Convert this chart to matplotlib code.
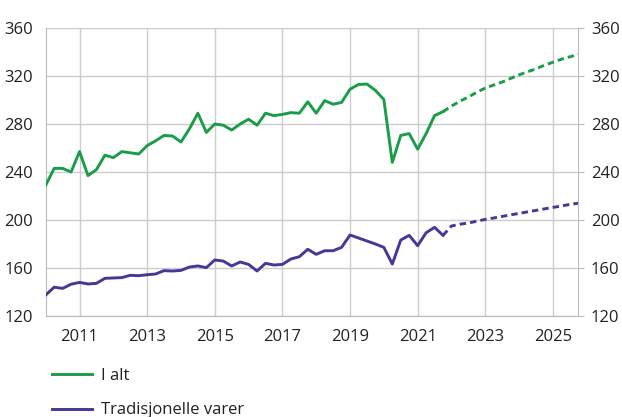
import matplotlib
matplotlib.use("Agg")
import matplotlib.pyplot as plt
from matplotlib.lines import Line2D
import numpy as np

plt.rcParams['font.family'] = ['Open Sans', 'DejaVu Sans']

# quarterly history, 2010Q1 - 2021Q4
hist_start = 2010
i_alt = [229, 243, 243, 240, 257, 237, 242, 254,
         252, 257, 256, 255, 262, 266, 270.5, 270,
         265, 276, 289, 273, 280, 279, 275, 280,
         284, 279, 289, 287, 288, 289.5, 289, 298.5,
         289, 299.5, 296.5, 298, 309, 313, 313.3, 308,
         300.5, 248, 270.5, 272, 259, 272, 287, 290.3]
tradisjonelle = [137.5, 144, 143, 146.5, 148, 146.7, 147.2, 151.4,
                 151.7, 152, 153.9, 153.6, 154.4, 155, 157.8, 157.5,
                 158, 160.8, 161.7, 160.3, 166.7, 165.8, 161.7, 165,
                 163, 157.5, 163.9, 162.5, 163, 167.5, 169.4, 175.6,
                 171.4, 174.4, 174.4, 177.2, 187.5, 185, 182.5, 180,
                 177.2, 163.3, 183.3, 187.2, 178.6, 189.4, 193.9, 187.2]

# projections, 2021Q4 - 2025Q4
proj_start = 2021.75
i_alt_proj = [290.3, 295, 299, 302.5, 306.5, 310, 312.5, 315, 318,
              321, 323.5, 326, 329, 331.5, 334, 336, 338]
trad_proj = [187.2, 195, 196.5, 197.5, 199, 200.5, 201.7, 203, 204.3,
             205.5, 206.8, 208, 209.3, 210.5, 211.7, 213, 214]

labels = ["I alt", "Tradisjonelle varer"]
colors = ["#1a9d49", "#473796"]
year_ticks = [2011, 2013, 2015, 2017, 2019, 2021, 2023, 2025]
y_ticks = [120, 160, 200, 240, 280, 320, 360]

t_hist = hist_start + np.arange(len(i_alt)) / 4
t_proj = proj_start + np.arange(len(i_alt_proj)) / 4

fig = plt.figure(figsize=(6.22, 4.17), dpi=100)
ax = fig.add_axes([0.0735, 0.2422, 0.8562, 0.6906])

lw = 2.1
dash = (0, (2.2, 1.4))
ax.plot(t_hist, i_alt, color=colors[0], lw=lw, zorder=3)
ax.plot(t_hist, tradisjonelle, color=colors[1], lw=lw, zorder=3)
ax.plot(t_proj, i_alt_proj, color=colors[0], lw=lw, ls=dash, zorder=3)
ax.plot(t_proj, trad_proj, color=colors[1], lw=lw, ls=dash, zorder=3)

ax.set_xlim(2010, 2025.75)
ax.set_ylim(120, 360)
ax.set_xticks(year_ticks)
ax.set_yticks(y_ticks)
ax.grid(True, color='#cccccc', lw=1)
ax.set_axisbelow(True)

for side in ['left', 'right', 'bottom']:
    ax.spines[side].set_color('#bbbbbb')
ax.spines['top'].set_visible(False)

ax.tick_params(axis='y', left=False, right=True, labelright=True,
               length=4, color='#bbbbbb', labelsize=12, pad=5,
               labelcolor='#222222')
ax.tick_params(axis='x', bottom=False, labelsize=12, pad=6,
               labelcolor='#222222')

# legend below the plot
handles = [Line2D([], [], color=c, lw=lw) for c in colors]
fig.legend(handles, labels, loc='center left', bbox_to_anchor=(0.06, 0.057),
           frameon=False, fontsize=12, handlelength=2.4, handletextpad=0.55,
           labelspacing=1.1, labelcolor='#222222')

fig.savefig("out.png", dpi=100)
